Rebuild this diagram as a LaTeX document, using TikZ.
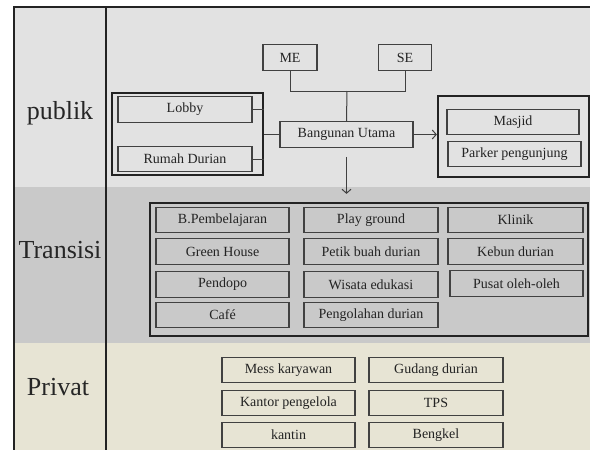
\documentclass[tikz,border=0pt]{standalone}
\usepackage{fontspec}
\setmainfont{Liberation Serif}
\usetikzlibrary{arrows.meta}
\definecolor{bandA}{RGB}{226,226,226}
\definecolor{bandB}{RGB}{201,201,201}
\definecolor{bandC}{RGB}{231,228,212}
\definecolor{edge}{RGB}{65,65,65}
\definecolor{gedge}{RGB}{35,35,35}
\definecolor{txt}{RGB}{35,35,35}
\tikzset{
  bx/.style={draw=edge, line width=1.3pt, inner sep=0pt, minimum height=25.5pt,
    font=\fontsize{14}{16}\selectfont, text=txt},
  grp/.style={draw=gedge, line width=2.2pt, inner sep=0pt},
  lbl/.style={font=\fontsize{26}{30}\selectfont, text=black!85, anchor=base},
  conn/.style={draw=black!75, line width=1pt},
  arr/.style={conn, -{Straight Barb[length=4pt,width=9pt]}}
}
\begin{document}
\begin{tikzpicture}[x=1pt,y=-1pt]
\useasboundingbox (0,0) rectangle (590,450);
% bands
\fill[bandA] (14,7) rectangle (590,187);
\fill[bandB] (14,187) rectangle (590,343);
\fill[bandC] (14,343) rectangle (590,450);
% frame
\draw[gedge, line width=2pt] (14,450) -- (14,7) -- (590,7);
\draw[gedge, line width=1.3pt] (106,7) -- (106,450);
% labels
\node[lbl] (lp) at (60,119) {publik};
\node[lbl] (lt) at (60,258) {Transisi};
\node[lbl] (lv) at (58,395) {Privat};
% publik
\node[grp, minimum width=151pt, minimum height=82pt] (lg) at (187.5,134) {};
\node[bx, minimum width=134pt] (lobby) at (185,109.5) {Lobby};
\node[bx, minimum width=134pt] (rumah) at (185,159) {Rumah Durian};
\node[bx, minimum width=54pt] (me) at (290,57.5) {ME};
\node[bx, minimum width=53pt] (se) at (405,57.5) {SE};
\node[bx, minimum width=133pt] (bu) at (346.5,134.5) {Bangunan Utama};
\node[grp, minimum width=151pt, minimum height=81pt] (rg) at (513.5,136.5) {};
\node[bx, minimum width=132pt] (masjid) at (513,122) {Masjid};
\node[bx, minimum width=133pt] (parker) at (514.5,154) {Parker pengunjung};
\coordinate (j) at (347,91);
\draw[conn] (lobby.east) -- (lobby.east -| lg.east);
\draw[conn] (rumah.east) -- (rumah.east -| lg.east);
\draw[conn] (bu.west) -- (bu.west -| lg.east);
\draw[conn] (me.south) |- (j);
\draw[conn] (se.south) |- (j);
\draw[conn] (j) -- (bu.north);
\draw[arr] (bu.east) -- (bu.east -| rg.west);
\draw[arr] ([yshift=-9pt]bu.south) -- ([yshift=-46pt]bu.south);
% transisi
\node[grp, minimum width=438pt, minimum height=133pt] (tg) at (369,269.5) {};
\node[bx, minimum width=133pt] (t11) at (222.5,220) {B.Pembelajaran};
\node[bx, minimum width=133pt] (t12) at (222.5,251.5) {Green House};
\node[bx, minimum width=133pt] (t13) at (222.5,284.5) {Pendopo};
\node[bx, minimum width=133pt] (t14) at (222.5,315) {Café};
\node[bx, minimum width=134pt] (t21) at (371,220) {Play ground};
\node[bx, minimum width=134pt] (t22) at (371,251.5) {Petik buah durian};
\node[bx, minimum width=134pt] (t23) at (371,284.5) {Wisata edukasi};
\node[bx, minimum width=134pt] (t24) at (371,315) {Pengolahan durian};
\node[bx, minimum width=135pt] (t31) at (515.5,220) {Klinik};
\node[bx, minimum width=135pt] (t32) at (515.5,251.5) {Kebun durian};
\node[bx, minimum width=133pt] (t33) at (516.5,283.5) {Pusat oleh-oleh};
% privat
\node[bx, minimum width=133pt] (p11) at (288.5,370) {Mess karyawan};
\node[bx, minimum width=133pt] (p12) at (288.5,403) {Kantor pengelola};
\node[bx, minimum width=133pt] (p13) at (288.5,435) {kantin};
\node[bx, minimum width=134pt] (p21) at (436,370) {Gudang durian};
\node[bx, minimum width=134pt] (p22) at (436,403) {TPS};
\node[bx, minimum width=134pt] (p23) at (436,435) {Bengkel};
\end{tikzpicture}
\end{document}
